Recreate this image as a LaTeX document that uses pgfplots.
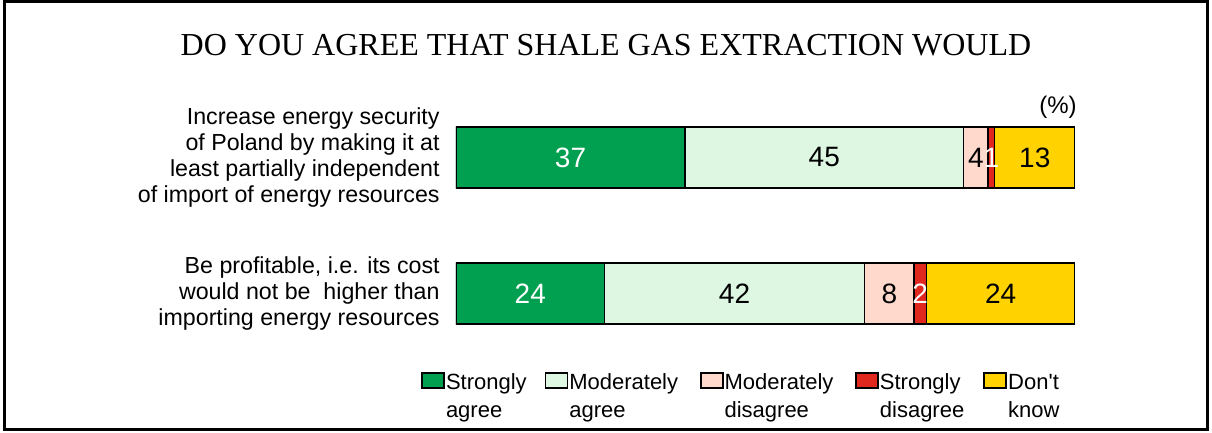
\documentclass[border=0pt]{standalone}
\usepackage{fontspec}
\setmainfont{Liberation Sans}
\newfontfamily\titlefont{Liberation Serif}
\usepackage{pgfplots}
\pgfplotsset{compat=1.18}
\definecolor{sa}{RGB}{0,160,80}
\definecolor{ma}{RGB}{221,247,227}
\definecolor{md}{RGB}{255,217,204}
\definecolor{sd}{RGB}{224,40,30}
\definecolor{dk}{RGB}{255,210,0}
\pgfplotsset{lg/.style={legend image code/.code={\draw[##1,line width=0.9pt] (0pt,0.8pt) rectangle (11pt,8.3pt);}}}
\begin{document}
\begin{tikzpicture}
\path[use as bounding box] (0pt,0pt) rectangle (606pt,216.5pt);
\draw[line width=1.5pt] (2.25pt,1.5pt) rectangle (603.75pt,215.75pt);
\node[anchor=base, inner sep=0pt, font=\titlefont\fontsize{16}{18}\selectfont] at (303pt,188.5pt) {DO YOU AGREE THAT SHALE GAS EXTRACTION WOULD};
\node[anchor=east, inner sep=0pt, font=\fontsize{12}{14}\selectfont] at (538.5pt,163pt) {(\%)};
\begin{axis}[
  at={(228pt,35.75pt)}, anchor=south west,
  scale only axis, width=309.5pt, height=136pt,
  xmin=0, xmax=100, ymin=-0.5, ymax=1.5,
  xbar stacked, bar width=30.5pt,
  axis line style={draw=none}, major tick length=0pt,
  xtick=\empty, ytick={0,1},
  yticklabels={{Be profitable, i.e. its cost\\would not be\ \ higher than\\importing energy resources},{Increase energy security\\of Poland by making it at\\least partially independent\\of import of energy resources}},
  yticklabel style={align=right, inner sep=0pt, xshift=-8pt, font=\fontsize{11.6}{13}\selectfont},
  legend columns=5,
  legend style={draw=none, fill=none, inner sep=0pt, outer sep=0pt,
    at={(-0.0562,-0.0287)}, anchor=north west,
    font=\fontsize{11}{14}\selectfont,
    cells={anchor=base west},
    /tikz/every odd column/.append style={column sep=-1.5pt}},
]
\addplot[fill=sa, draw=black, line width=0.9pt, lg] coordinates {(37,1) (24,0)};
\addlegendentry{\parbox[t]{47.25pt}{Strongly\\agree}}
\addplot[fill=ma, draw=black, line width=0.9pt, lg] coordinates {(45,1) (42,0)};
\addlegendentry{\parbox[t]{63.25pt}{Moderately\\agree}}
\addplot[fill=md, draw=black, line width=0.9pt, lg] coordinates {(4,1) (8,0)};
\addlegendentry{\parbox[t]{63.25pt}{Moderately\\disagree}}
\addplot[fill=sd, draw=black, line width=0.9pt, lg] coordinates {(1,1) (2,0)};
\addlegendentry{\parbox[t]{49.75pt}{Strongly\\disagree}}
\addplot[fill=dk, draw=black, line width=0.9pt, lg] coordinates {(13,1) (24,0)};
\addlegendentry{\parbox[t]{30pt}{Don\textquotesingle t\\know}}
\end{axis}
\begin{axis}[
  at={(228pt,35.75pt)}, anchor=south west,
  scale only axis, width=309.5pt, height=136pt,
  xmin=0, xmax=100, ymin=-0.5, ymax=1.5,
  hide axis,
]
\addplot[only marks, mark=*, mark size=0pt, mark options={draw=none,fill=none},
  nodes near coords, point meta=explicit symbolic,
  every node near coord/.append style={anchor=center, text=black, inner sep=0pt, font=\fontsize{14}{16}\selectfont}]
  coordinates {(59.5,1)[45] (84,1)[4] (93.5,1)[13] (45,0)[42] (70,0)[8] (88,0)[24]};
\addplot[only marks, mark=*, mark size=0pt, mark options={draw=none,fill=none},
  nodes near coords, point meta=explicit symbolic,
  every node near coord/.append style={anchor=center, text=white, inner sep=0pt, font=\fontsize{14}{16}\selectfont}]
  coordinates {(18.5,1)[37] (86.5,1)[1] (12,0)[24] (75,0)[2]};
\end{axis}
\end{tikzpicture}
\end{document}
